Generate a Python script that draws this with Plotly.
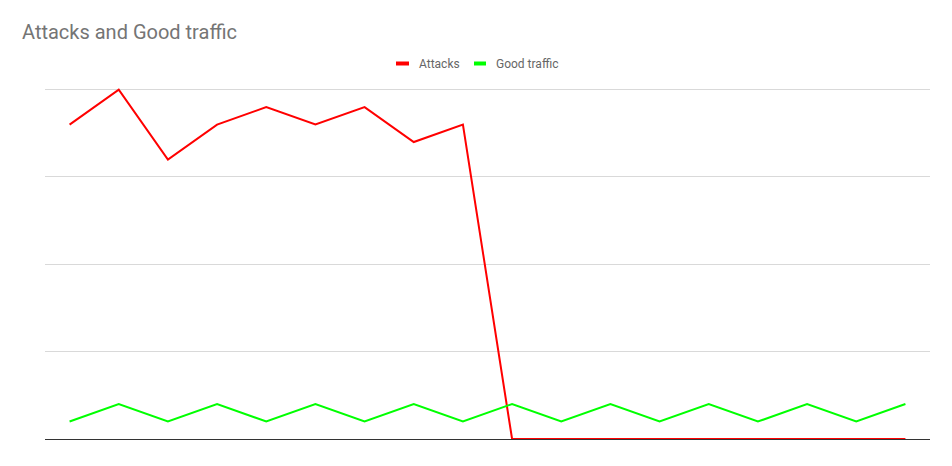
import plotly.graph_objects as go

categories = list(range(1, 19))
attacks = [36, 40, 32, 36, 38, 36, 38, 34, 36, 0, 0, 0, 0, 0, 0, 0, 0, 0]
good_traffic = [2, 4, 2, 4, 2, 4, 2, 4, 2, 4, 2, 4, 2, 4, 2, 4, 2, 4]
series_names = ["Attacks", "Good traffic"]
colors = ["#ff0000", "#00ff00"]

W, H = 952, 466
ML, MR, MT, MB = 37, 30, 79, 35
PW, PH = W - ML - MR, H - MT - MB


def px_x(x):
    return (x - ML) / PW


def px_y(y):
    return (H - MB - y) / PH


fig = go.Figure()
for name, vals, col in zip(series_names, [attacks, good_traffic], colors):
    fig.add_trace(go.Scatter(x=categories, y=vals, mode="lines", name=name,
                             line=dict(color=col, width=2), showlegend=False,
                             hoverinfo="x+y+name"))

# custom legend (short thick swatches + labels), figure pixel coordinates
legend_swatch_x = [(388, 401), (466, 478)]
legend_text_x = [409, 486]
legend_y = 55.5
for name, col, (sx0, sx1), tx in zip(series_names, colors, legend_swatch_x, legend_text_x):
    fig.add_shape(type="line", xref="paper", yref="paper",
                  x0=px_x(sx0), x1=px_x(sx1), y0=px_y(legend_y), y1=px_y(legend_y),
                  line=dict(color=col, width=4))
    fig.add_annotation(text=name, xref="paper", yref="paper", x=px_x(tx), y=px_y(legend_y),
                       xanchor="left", yanchor="middle", showarrow=False,
                       font=dict(size=12, color="#666666", family="Roboto, Arial, sans-serif"))

# the page body adds an 8px offset; positions are in figure coordinates
fig.update_layout(
    width=W, height=H,
    margin=dict(l=ML, r=MR, t=MT, b=MB),
    paper_bgcolor="white", plot_bgcolor="white",
    font=dict(family="Roboto, Arial, sans-serif", color="#757575"),
    title=dict(text="Attacks and Good traffic", x=14 / W, xref="container", xanchor="left",
               y=1 - 23.5 / H, yanchor="middle", yref="container", pad=dict(l=0),
               font=dict(size=20, color="#757575", family="Roboto, Arial, sans-serif")),
    showlegend=False,
    xaxis=dict(type="linear", range=[0.5, 18.5], showgrid=False, zeroline=False,
               showticklabels=False, ticks="", showline=False, fixedrange=True),
    yaxis=dict(range=[0, 40.3], tick0=0, dtick=10, showgrid=True, gridcolor="#d9d9d9",
               gridwidth=1, zeroline=True, zerolinecolor="#333333", zerolinewidth=1,
               showticklabels=False, ticks="", showline=False, fixedrange=True),
)

fig.write_html("out.html")
